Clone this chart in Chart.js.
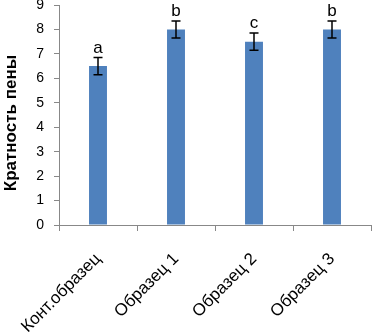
<!DOCTYPE html>
<html><head><meta charset="utf-8">
<script src="https://cdn.jsdelivr.net/npm/chart.js@4"></script>
<style>html,body{margin:0;padding:0;background:#fff}#wrap{width:372px;height:336px}</style>
</head><body><div id="wrap"><canvas id="c" width="372" height="336"></canvas></div>
<script>
const categories = ['Конт.образец', 'Образец 1', 'Образец 2', 'Образец 3'];
const values = [6.5, 8.0, 7.5, 8.0];
const errors = [0.35, 0.35, 0.35, 0.35];
const letters = ['a', 'b', 'c', 'b'];
const yTicks = [0,1,2,3,4,5,6,7,8,9];
const yTitle = 'Кратность пены';
const FONT = '"Liberation Sans", Arial, sans-serif';

const errPlugin = {
  id: 'errs',
  afterDatasetsDraw(chart) {
    const ctx = chart.ctx, x = chart.scales.x, y = chart.scales.y;
    ctx.save();
    ctx.strokeStyle = '#000'; ctx.lineWidth = 1.5;
    ctx.fillStyle = '#000';
    ctx.font = '17px ' + FONT;
    ctx.textAlign = 'center'; ctx.textBaseline = 'alphabetic';
    values.forEach((v, i) => {
      const cx = x.getPixelForValue(i);
      const top = y.getPixelForValue(v + errors[i]);
      const bot = y.getPixelForValue(v - errors[i]);
      ctx.beginPath();
      ctx.moveTo(cx, top); ctx.lineTo(cx, bot);
      ctx.moveTo(cx - 4.5, top); ctx.lineTo(cx + 4.5, top);
      ctx.moveTo(cx - 4.5, bot); ctx.lineTo(cx + 4.5, bot);
      ctx.stroke();
      ctx.fillText(letters[i], cx, top - 5);
    });
    // y-axis title
    ctx.translate(11, 123);
    ctx.rotate(-Math.PI / 2);
    ctx.font = 'bold 17px ' + FONT;
    ctx.textBaseline = 'middle';
    ctx.fillText(yTitle, 0, 0);
    ctx.restore();
  }
};

new Chart(document.getElementById('c'), {
  type: 'bar',
  data: { labels: categories, datasets: [{ data: values, backgroundColor: '#4f81bd', borderWidth: 0, categoryPercentage: 1, barPercentage: 0.23 }] },
  options: {
    responsive: false, animation: false,
    layout: { padding: { top: 5, right: 1, left: 0, bottom: 0 } },
    plugins: { legend: { display: false }, tooltip: { enabled: false } },
    scales: {
      x: {
        grid: { drawOnChartArea: false, drawTicks: true, tickLength: 6, color: '#888', offset: true },
        border: { display: true, color: '#888' },
        ticks: { maxRotation: 45, minRotation: 45, color: '#000', font: { size: 17, family: FONT }, padding: 18 },
        afterFit(s) { s.height = 111; s.paddingLeft = 0; s.paddingRight = 0; }
      },
      y: {
        min: 0, max: 9,
        afterBuildTicks(s) { s.ticks = yTicks.map(v => ({ value: v })); },
        grid: { drawOnChartArea: false, drawTicks: true, tickLength: 5, color: '#888' },
        border: { display: true, color: '#888' },
        ticks: { color: '#000', font: { size: 14, family: FONT }, padding: 10 },
        title: { display: false },
        afterFit(s) { s.width = 59; s.paddingTop = 0; s.paddingBottom = 0; }
      }
    }
  },
  plugins: [errPlugin]
});
</script></body></html>
